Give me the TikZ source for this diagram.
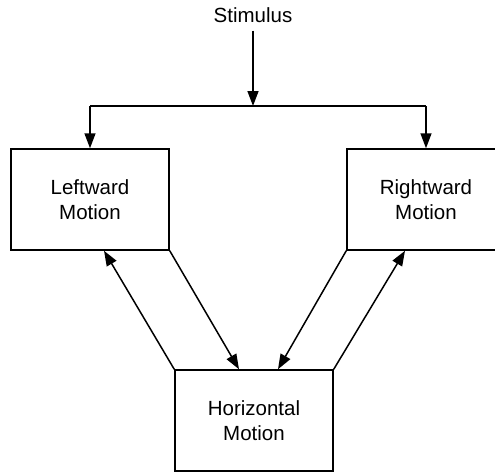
\documentclass[tikz,border=0pt]{standalone}
\usepackage{fontspec}
\setmainfont{Liberation Sans}
\usetikzlibrary{positioning,arrows.meta}
\tikzset{
motionbox/.style = {draw, line width=1.5pt, minimum width=158pt, minimum height=101pt,
  align=center, inner sep=0pt, font=\fontsize{20.5}{25}\selectfont},
flow/.style = {line width=1.5pt, -{Triangle[length=15pt,width=11pt]}},
plain/.style = {line width=1.5pt}
}
\begin{document}
\begin{tikzpicture}[x=1pt,y=-1pt]
      \clip (0,0) rectangle (495,471);
      \node [font=\fontsize{20.5}{25}\selectfont, anchor=base] (stim) at (253,23) {Stimulus};
      \node [motionbox] (left) at (90,199.5) {Leftward\\Motion};
      \node [motionbox] (right) at (426,199.5) {Rightward\\Motion};
      \node [motionbox] (horiz) at (254,420.5) {Horizontal\\Motion};
      % split of the stimulus
      \coordinate (split) at (253,106);
      \coordinate (splitl) at (90,106);
      \coordinate (splitr) at (426,106);
      \draw [flow] ([yshift=-4pt]stim.south) -- (split);
      \draw [plain] (splitl) -- (splitr);
      \draw [flow] (splitl) -- (left);
      \draw [flow] (splitr) -- (right);
      % feedback between the boxes
      \draw [flow] (left.south east) -- ([xshift=-15pt]horiz.north);
      \draw [flow] (horiz.north west) -- ([xshift=14pt]left.south);
      \draw [flow] (right.south west) -- ([xshift=24pt]horiz.north);
      \draw [flow] (horiz.north east) -- ([xshift=-21pt]right.south);
\end{tikzpicture}
\end{document}
